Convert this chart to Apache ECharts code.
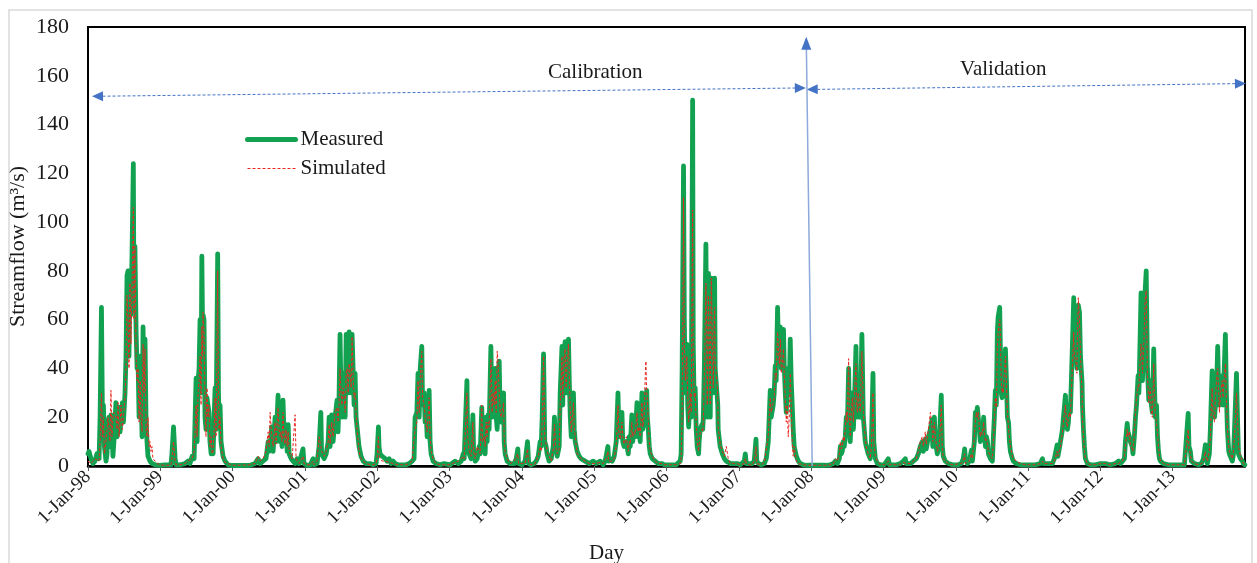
<!DOCTYPE html>
<html>
<head>
<meta charset="utf-8">
<script src="https://cdn.jsdelivr.net/npm/echarts@6/dist/echarts.min.js"></script>
<style>
html,body{margin:0;padding:0;background:#fff;}
#chart{width:1257px;height:563px;}
</style>
</head>
<body>
<div id="chart"></div>
<script>
// Day index = days since 1-Jan-1998 (daily record 1998-2013), values in m3/s
const dayIndex = [
0,5,15,25,35,45,56,61,68,73,78,83,91,96,101,106,111,116,121,126,131,141,147,152,157,162,167,174,179,187,192,197,202,207,212,217,222,229,232,237,243,248,253,258,263,268,273,278,283,288,293,298,303,308,313,318,323,328,339,349,364,
389,419,424,432,440,445,465,490,505,515,526,536,541,546,551,556,561,566,571,575,579,581,586,591,596,601,606,611,616,622,627,632,637,642,647,655,659,662,667,672,682,692,707,728,
768,819,844,859,869,884,899,910,915,920,928,935,945,950,960,965,970,975,980,985,990,995,1000,1006,1011,1016,1021,1026,1031,1036,1046,1051,1056,1066,1076,1086,1091,1107,1122,1137,1142,
1157,1167,1176,1180,1193,1203,1213,1218,1223,1231,1238,1248,1258,1263,1268,1273,1278,1283,1289,1294,1299,1304,1309,1314,1319,1324,1329,1334,1339,1344,1349,1354,1359,1369,1379,1390,1405,1425,1440,1455,1460,1467,1470,1475,
1486,1501,1511,1521,1531,1541,1551,1566,1587,1607,1622,1637,1647,1652,1661,1667,1673,1678,1686,1690,1698,1703,1708,1713,1718,1723,1728,1733,1743,1758,1779,1799,1809,1829,
1839,1854,1870,1885,1895,1900,1914,1918,1925,1935,1944,1948,1956,1966,1976,1981,1989,1993,2001,2006,2011,2016,2021,2026,2035,2039,2041,2046,2052,2057,2062,2067,2072,2077,2082,2087,2092,2099,2102,2107,2117,2132,2153,2163,2171,2175,2193,2208,2220,2226,2238,2254,
2264,2274,2284,2289,2294,2301,2307,2314,2319,2329,2340,2350,2356,2362,2370,2380,2385,2394,2398,2400,2405,2410,2415,2420,2427,2431,2436,2441,2446,2452,2456,2461,2471,2481,2491,2511,2532,2552,2567,2587,2602,2612,2617,2626,2630,
2638,2648,2658,2668,2677,2681,2688,2697,2701,2708,2719,2729,2734,2739,2747,2751,2759,2764,2773,2777,2784,2789,2798,2802,2809,2815,2818,2822,2825,2830,2835,2840,2850,2865,2880,2900,2911,2921,
2931,2941,2951,2961,2971,2981,2991,2996,3001,3008,3012,3017,3025,3029,3034,3042,3047,3054,3057,3062,3067,3072,3077,3084,3087,3092,3101,3105,3108,3113,3121,3125,3128,3134,3138,3143,3148,3153,3158,3165,3168,3177,3181,3183,3193,3204,3214,3224,3234,3244,3259,3279,3295,
3305,3315,3320,3325,3340,3355,3365,3374,3378,3386,3401,3416,3426,3436,3446,3451,3461,3466,3471,3476,3483,3487,3492,3497,3502,3507,3513,3517,3522,3527,3532,3537,3542,3547,3552,3557,3562,3567,3578,3588,3598,3613,3633,3653,
3674,3699,3724,3749,3764,3775,3785,3795,3800,3805,3810,3815,3820,3825,3830,3835,3842,3845,3850,3855,3861,3866,3871,3879,3883,3886,3891,3896,3901,3909,3914,3916,3921,3926,3931,3941,3951,3957,3965,3969,3977,3987,4002,4022,4032,4042,4048,
4063,4083,4103,4118,4128,4133,4154,4169,4184,4194,4204,4214,4219,4229,4234,4245,4255,4263,4267,4275,4280,4290,4300,4310,4315,4320,4330,4346,4366,4381,
4396,4411,4421,4428,4432,4442,4452,4462,4467,4477,4482,4487,4492,4497,4502,4507,4512,4517,4524,4527,4533,4538,4543,4548,4558,4568,4573,4578,4583,4588,4593,4597,4605,4608,4613,4617,4621,4623,4629,4634,4639,4644,4650,4654,4659,4669,4674,4689,4709,4735,
4760,4785,4810,4821,4826,4841,4856,4871,4881,4895,4899,4906,4912,4922,4927,4937,4942,4947,4952,4957,4962,4967,4979,4982,4991,4995,4997,5002,5008,5013,5021,5023,5028,5033,5038,5048,5063,5088,5114,
5139,5164,5189,5205,5215,5225,5235,5240,5249,5253,5260,5265,5274,5278,5285,5291,5296,5304,5308,5311,5319,5323,5326,5332,5336,5339,5345,5349,5351,5358,5361,5366,5371,5376,5383,5386,5391,5397,5402,5407,5412,5417,5432,5457,5477,
5498,5518,5538,5548,5557,5561,5568,5573,5589,5609,5624,5634,5644,5649,5654,5664,5669,5678,5682,5690,5695,5700,5706,5710,5715,5720,5729,5733,5735,5745,5750,5755,5762,5765,5770,5780,5786,5791,5801,5806,5811,5821,5831,5836,5843
];

const measured = [
5,6,3,1,2,5,3,20,65,20,25,8,2,5,18,20,8,21,14,4,10,26,12,22,24,14,20,26,18,30,45,78,80,45,80,62,85,124,70,90,55,40,42,20,45,30,12,57,35,52,20,10,4,3,2,1.5,1,0.8,0.5,0.4,0.3,
0.5,0.5,5,16,3,0.5,0.5,1,2,1,4,3,20,36,10,35,40,60,30,86,55,62,60,20,15,28,25,22,10,5,8,5,20,32,15,87,30,20,25,10,4,2,0.5,0.2,
0.2,0.3,1,3,1,2,3,10,6,8,16,6,20,10,29,18,10,16,8,27,14,10,17,6,17,5,4,3,2.5,2,1,2,3,1,0.5,7,1,0.3,0.3,3,0.5,
1,8,22,5,3,5,10,20,8,21,10,20,27,14,28,54,30,20,38,30,20,54,45,30,55,40,30,54,40,25,38,20,16,8,4,2,1,1,0.5,1,5,16,8,5,
4,3,2,3,1,2,1,0.5,0.5,0.5,1,2,3,20,22,38,20,40,49,25,30,18,22,12,16,31,10,5,2,1,0.5,1,1,0.5,
1,2,1,2,5,3,35,10,5,3,21,5,2,3,8,5,24,8,14,5,20,10,21,15,49,30,20,35,25,40,20,15,38,43,20,18,22,30,10,5,2,1,1,3,7,1,0.5,2,10,1,0.5,1,
2,4,10,8,20,46,10,8,5,2,3,8,20,10,4,8,30,49,25,35,47,51,30,45,52,35,20,12,22,30,15,10,6,4,3,2,1,2,1,2,0.5,2,4,8,2,
3,2,4,10,30,15,12,22,10,8,10,5,12,8,21,10,15,12,26,12,18,10,30,15,18,25,28,31,20,15,8,5,3,2,1,1,0.5,0.5,
0.5,1,0.5,1,0.5,1,2,5,40,123,60,30,50,25,16,33,20,150,50,25,32,15,8,5,10,15,17,15,20,40,91,50,20,79,45,20,77,50,30,77,40,40,25,15,8,5,3,2,2,1,1,1,0.5,
1,2,5,1,1,1,2,11,2,1,0.5,1,3,10,31,20,25,30,41,35,65,50,45,57,40,45,56,40,30,22,35,40,30,52,35,25,15,8,4,2,1,0.5,0.3,0.3,
0.3,0.3,0.3,0.5,1,2,1,3,8,5,6,10,8,12,20,15,40,20,10,20,30,15,25,49,25,20,34,22,20,54,30,20,15,10,8,5,3,10,38,10,3,1,0.5,0.5,1,3,0.5,
0.5,0.5,1,2,3,1,1,2,3,5,8,10,6,11,7,12,15,19,8,20,10,5,10,29,8,4,2,1,0.5,0.5,
0.5,1,3,7,3,1,2,6.5,2,10,22,20,24,24,15,10,15,12,20,14,8,12,10,5,3,2,12,20,31,25,55,61,65,50,30,28,35,30,40,48,35,20,17.6,10,6,3,2,1,0.5,0.5,
0.5,0.5,1,3,1,1,1,1,3,8.6,4,7,10,15,20,29,20,15,18,25,22,35,69,50,46,40,55,66,63,45,34,25,15,8,3,1,0.5,0.5,1,
1,0.5,1,2,1,2,3,10,17.5,14,12,10,8,5,12,20,25,37,30,40,71,50,35,51,60,71,80,55,40,27,30,35,25,22,48,35,20,25,12,6,3,2,1,0.5,0.5,
0.5,0.5,0.5,1,21.6,8,6,2,1,0.5,1,3,8.7,3,1,5,15,39,25,20,25,30,49,35,25,31,37,25,30,54,30,15,6,5,4,2,5,15,38,20,5,3,2,1,0.5
];

const simulated = [
2,1.5,1,2,3,2.5,2,10,30,12,20,5,10,10,20,15,10,31,12,20,22,20,15,26,12,18,25,15,20,28,40,70,60,40,75,50,70,106,60,90,45,35,40,18,35,20,14,50,30,48,15,12,20,8,10,6,8,3,2,1,0.5,
0.3,0.3,3,10,2,0.5,0.5,1,2,2,3,6,15,25,12,30,35,45,25,57,45,63,55,25,12,32,20,25,8,12,5,6,15,28,12,80,30,15,20,8,3,1.5,1,0.3,
0.3,0.5,1,4,2,3,6,14,8,22,12,8,18,9,24,15,12,14,10,22,12,9,15,8,14,6,5,4,3,3,21,3,2,1,1,4,1,0.5,0.5,2,0.5,
2,12,8,6,4,6,10,17,9,18,12,22,24,18,25,40,30,25,32,28,22,38,40,30,42,38,32,53,38,28,30,22,15,6,3,2,1,0.5,0.5,1,3,12,5,3,
2,2,2,1.5,1,1,1,0.5,0.5,0.5,1,2,2,15,18,35,22,36,47,28,25,20,20,14,14,28,12,6,3,1,0.5,0.5,0.5,0.5,
1,1.5,2,3,4,3,30,12,6,4,18,6,3,8,6,5,25,10,12,8,18,12,18,16,44,32,22,30,25,35,22,47,42,30,22,20,20,26,12,6,3,1,2,2,5,1,1,1,7,1,0.5,0.5,
2,4,8,6,18,45,12,9,6,4,2,7,17,8,5,7,25,45,28,32,44,48,32,42,50,38,22,14,20,26,16,12,5,4,3,2,1,1,1,1.5,1,1,3,6,2,
2,2,3,8,25,14,11,18,12,9,12,6,10,9,18,12,14,13,22,14,16,12,26,16,20,38,43,30,28,18,10,6,4,2,1,1,0.5,0.5,
0.5,0.5,0.5,0.5,0.5,0.8,1,3,20,110,50,35,45,28,18,30,22,105,45,28,30,18,10,6,9,14,15,14,18,35,75,55,25,70,50,25,77,55,32,65,42,35,28,16,9,6,4,8,3,1,1,1,0.5,
1,1,3,1,0.5,0.5,2,8,1,1,0.5,1.5,2,12,28,22,22,28,38,36,55,48,42,52,38,42,48,38,28,18,25,12,20,38,25,10,4,8,2,1,0.5,0.5,0.3,0.3,
0.3,0.3,0.3,0.5,0.8,3,2,5,10,7,8,12,10,15,22,18,44,22,12,22,28,18,28,42,25,22,30,24,22,47,32,22,16,12,8,5,3,8,30,10,4,2,0.5,0.5,1,2,0.5,
0.5,0.5,0.8,1.5,2,1,1,2,3,6,10,12,8,14,9,15,22,16,10,18,12,6,8,25,8,3,2,1,0.5,0.5,
1,1,2,5,1,1,2,5,3,12,18,22,20,22,16,12,14,13,18,14,10,11,9,6,4,3,10,18,28,24,48,55,60,55,35,30,32,30,38,45,35,22,15,12,8,4,3,2,1,0.5,
0.5,0.5,1,2,1,1,1,1,2,6,4,6,8,14,18,25,18,16,20,22,20,30,55,45,42,38,50,69,60,45,30,20,12,6,3,1,0.5,0.5,1,
1,0.5,1,1,1.5,2,4,8,15,12,14,9,7,6,14,22,28,33,32,38,50,48,38,48,58,68,72,50,38,26,30,32,22,20,42,32,22,22,14,8,4,2,1,0.5,0.5,
0.5,0.5,0.5,1,15,7,5,2,1,0.5,1,2,6,3,2,6,12,32,22,18,28,35,40,32,22,30,35,28,32,42,28,15,8,6,5,3,6,12,30,20,8,4,2,1,0.5
];

const yTicks = [0, 20, 40, 60, 80, 100, 120, 140, 160, 180];
const yearLabels = ['1-Jan-98','1-Jan-99','1-Jan-00','1-Jan-01','1-Jan-02','1-Jan-03','1-Jan-04','1-Jan-05',
  '1-Jan-06','1-Jan-07','1-Jan-08','1-Jan-09','1-Jan-10','1-Jan-11','1-Jan-12','1-Jan-13'];
const daysPerYear = 365.25;
const totalDays = 16 * daysPerYear;

// period annotations (day index, streamflow)
const calibrationArrow = [[48, 151.6], [3598, 155.0]];
const validationArrow = [[3658, 154.4], [5821, 156.8]];
const periodSplit = [[3658, 0], [3628, 175]];
const calibrationLabel = [2562, 161.5];
const validationLabel = [4623, 162.7];

const measuredData = dayIndex.map((d, i) => [d, measured[i]]);
const simulatedData = dayIndex.map((d, i) => [d, simulated[i]]);

const serif = '"Liberation Serif", "Times New Roman", serif';
const chart = echarts.init(document.getElementById('chart'), null, {renderer: 'canvas'});

const dashBlue = {color: '#4472C4', type: [3, 2], width: 1};

chart.setOption({
  animation: false,
  backgroundColor: '#fff',
  textStyle: {fontFamily: serif},
  graphic: [
    {type: 'rect', shape: {x: 9, y: 10, width: 1243, height: 570}, style: {fill: 'none', stroke: '#d9d9d9', lineWidth: 1.5}, silent: true, z: -1},
    {type: 'text', left: 589, top: 543, style: {text: 'Day', font: '21px ' + serif, fill: '#1a1a1a'}}
  ],
  grid: {left: 88, right: 12, top: 27, bottom: 97, outerBoundsMode: 'none', containLabel: false,
         show: true, borderColor: '#000', borderWidth: 2, backgroundColor: '#fff'},
  legend: {
    orient: 'vertical', left: 245, top: 129, padding: 0, itemWidth: 48, itemHeight: 14, itemGap: 8,
    itemStyle: {opacity: 0, borderWidth: 0},
    textStyle: {fontFamily: serif, fontSize: 21, color: '#1a1a1a'},
    data: [
      {name: 'Measured', lineStyle: {width: 5, color: '#12a150'}},
      {name: 'Simulated', lineStyle: {width: 1, color: '#e8271e', type: [3, 2]}}
    ]
  },
  xAxis: {
    type: 'value', min: 0, max: totalDays, interval: daysPerYear,
    axisLine: {show: true, lineStyle: {color: '#000', width: 2.5}},
    axisTick: {show: true, length: 5, lineStyle: {color: '#595959', width: 1}},
    splitLine: {show: false},
    axisLabel: {
      rotate: 45, margin: 8, fontFamily: serif, fontSize: 19, color: '#1a1a1a',
      showMaxLabel: false,
      formatter: v => yearLabels[Math.round(v / daysPerYear)] || ''
    }
  },
  yAxis: {
    type: 'value', min: yTicks[0], max: yTicks[yTicks.length - 1], interval: 20,
    name: 'Streamflow (m³/s)', nameLocation: 'middle', nameGap: 59, nameMoveOverlap: false,
    nameTextStyle: {fontFamily: serif, fontSize: 22, color: '#1a1a1a'},
    axisLine: {show: true, lineStyle: {color: '#000', width: 2}},
    axisTick: {show: false},
    splitLine: {show: false},
    axisLabel: {margin: 19, fontFamily: serif, fontSize: 22, color: '#1a1a1a'}
  },
  series: [
    {
      name: 'Measured', type: 'line', data: measuredData, showSymbol: false, symbol: 'none',
      sampling: false, z: 2,
      lineStyle: {color: '#12a150', width: 4.8, join: 'round', cap: 'round'},
      itemStyle: {color: '#12a150'},
      markLine: {
        silent: true, animation: false, symbol: ['triangle', 'triangle'], symbolSize: [10, 11],
        label: {show: false}, emphasis: {disabled: true},
        data: [
          [{coord: calibrationArrow[0], lineStyle: dashBlue}, {coord: calibrationArrow[1]}],
          [{coord: validationArrow[0], lineStyle: dashBlue}, {coord: validationArrow[1]}],
          [{coord: periodSplit[0], symbol: 'none', lineStyle: {color: '#8EA9DB', type: 'solid', width: 1.5}},
           {coord: periodSplit[1], symbol: 'none'}]
        ]
      },
      markPoint: {
        silent: true, animation: false,
        data: [
          {coord: periodSplit[1], symbol: 'triangle', symbolSize: [10, 13], symbolOffset: [0, 4], itemStyle: {color: '#4472C4'}, label: {show: false}},
          {coord: calibrationLabel, symbol: 'circle', symbolSize: 1, itemStyle: {color: 'rgba(0,0,0,0)'},
           label: {show: true, position: 'inside', formatter: 'Calibration', fontFamily: serif, fontSize: 21, color: '#1a1a1a'}},
          {coord: validationLabel, symbol: 'circle', symbolSize: 1, itemStyle: {color: 'rgba(0,0,0,0)'},
           label: {show: true, position: 'inside', formatter: 'Validation', fontFamily: serif, fontSize: 21, color: '#1a1a1a'}}
        ]
      }
    },
    {
      name: 'Simulated', type: 'line', data: simulatedData, showSymbol: false, symbol: 'none',
      sampling: false, z: 3,
      lineStyle: {color: '#e8271e', width: 1, type: [3, 2]},
      itemStyle: {color: '#e8271e'}
    }
  ]
});
</script>
</body>
</html>
